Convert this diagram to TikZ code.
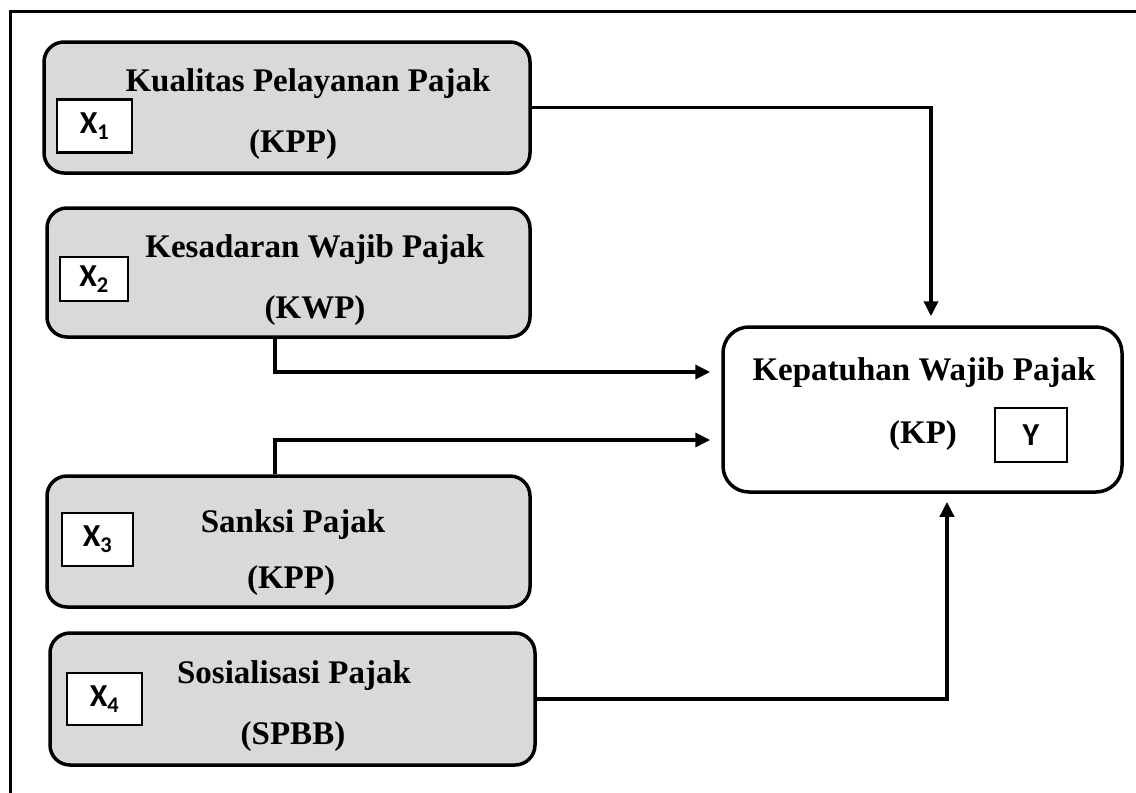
\documentclass[tikz,border=0pt]{standalone}
\usepackage{fontspec}
\setmainfont{Liberation Serif}
\newfontfamily\labelfont{Carlito}
\usetikzlibrary{arrows.meta}
\definecolor{boxgrey}{HTML}{D9D9D9}
\tikzset{
  varbox/.style={draw, line width=3.5pt, rounded corners=20pt, fill=boxgrey},
  targetbox/.style={draw, line width=3.5pt, rounded corners=26pt, fill=white},
  tagbox/.style={draw, line width=2.2pt, fill=white, inner sep=0pt,
    font=\labelfont\bfseries\fontsize{32}{34}\selectfont},
  title/.style={inner sep=0pt, anchor=base, font=\bfseries\fontsize{33}{36}\selectfont},
  conn/.style={line width=3.5pt, -{Triangle[length=15pt,width=14pt]}},
  frame/.style={line width=3pt}
}
\begin{document}
\begin{tikzpicture}[x=1pt,y=-1pt]
\useasboundingbox (0,0) rectangle (1136,793);

% outer frame (top and left edges)
\coordinate (fa) at (10,793);
\coordinate (fb) at (10,11);
\coordinate (fc) at (1136,11);
\draw[frame] (fa) -- (fb) -- (fc);

% independent variables
\node[varbox, minimum width=486pt, minimum height=131pt] (b1) at (287,107.5) {};
\node[varbox, minimum width=483pt, minimum height=129pt] (b2) at (288.5,272.5) {};
\node[varbox, minimum width=483pt, minimum height=131pt] (b3) at (288.5,541.5) {};
\node[varbox, minimum width=485pt, minimum height=132pt] (b4) at (292.5,699) {};

% dependent variable
\node[targetbox, minimum width=399pt, minimum height=165pt] (t) at (922.5,409.5) {};

% titles
\node[title] (b1a) at (308,91) {Kualitas Pelayanan Pajak};
\node[title] (b1b) at (293,152) {(KPP)};
\node[title] (b2a) at (315,257) {Kesadaran Wajib Pajak};
\node[title] (b2b) at (315,318) {(KWP)};
\node[title] (b3a) at (293,532) {Sanksi Pajak};
\node[title] (b3b) at (291,588) {(KPP)};
\node[title] (b4a) at (294,683) {Sosialisasi Pajak};
\node[title] (b4b) at (293,744) {(SPBB)};
\node[title] (ta) at (924,380) {Kepatuhan Wajib Pajak};
\node[title] (tb) at (923,443) {(KP)};

% variable tags
\node[tagbox, minimum width=75pt, minimum height=53pt] (x1) at (94.5,126) {X\textsubscript{1}};
\node[tagbox, minimum width=68pt, minimum height=44pt] (x2) at (94,279) {X\textsubscript{2}};
\node[tagbox, minimum width=71pt, minimum height=53pt] (x3) at (97.5,539.5) {X\textsubscript{3}};
\node[tagbox, minimum width=75pt, minimum height=52pt] (x4) at (104.5,699) {X\textsubscript{4}};
\node[tagbox, minimum width=72pt, minimum height=54pt] (y) at (1031,435) {Y};

% connectors
\coordinate (k1) at (931,108);
\coordinate (k2) at (275,372);
\coordinate (k3) at (275,440);
\coordinate (k4) at (947,699);
\draw[conn, shorten >=9pt] (b1.east) -| (t.north -| k1);
\draw[conn, shorten >=11pt] (b2.south -| k2) |- (t.west |- k2);
\draw[conn, shorten >=11pt] (b3.north -| k3) |- (t.west |- k3);
\draw[conn, shorten >=8pt] (b4.east) -| (t.south -| k4);
\end{tikzpicture}
\end{document}
